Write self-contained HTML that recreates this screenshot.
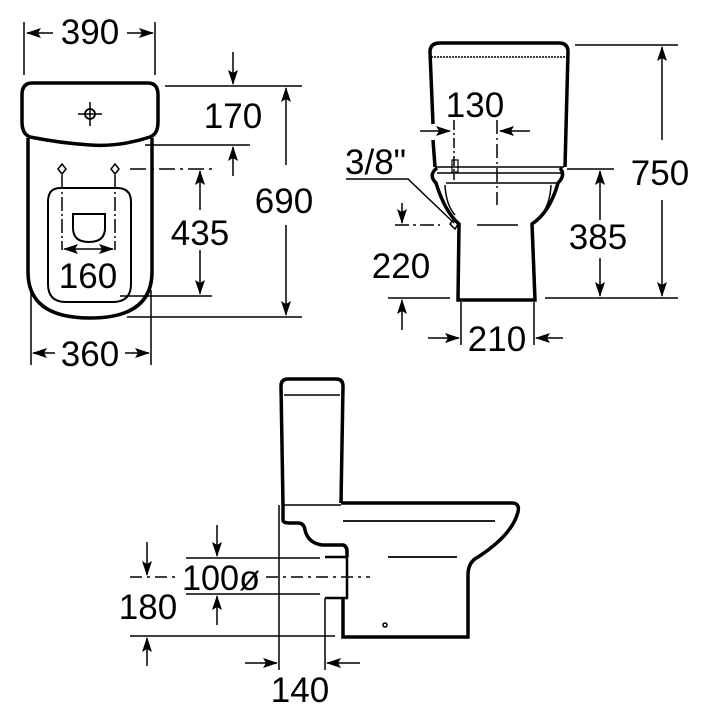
<!DOCTYPE html>
<html><head><meta charset="utf-8"><style>
html,body{margin:0;padding:0;background:#fff}
svg{display:block}
text{font-family:"Liberation Sans",Arial,sans-serif;font-size:35px;fill:#000}
</style></head><body>
<svg width="709" height="720" viewBox="0 0 709 720" xmlns="http://www.w3.org/2000/svg">
<defs>
<marker id="a" markerWidth="15" markerHeight="10" refX="14" refY="5" orient="auto" markerUnits="userSpaceOnUse">
<path d="M0,0 L15,5 L0,10 L3,5 Z" fill="#000"/></marker>
</defs>
<g fill="none" stroke="#000">
<!-- ===== TOP VIEW ===== -->
<path d="M32,83 H148 Q158,83 158,95 V122 Q158,134 150,137 Q120,147 90,145 Q60,143 30,137 Q22,134 22,122 V95 Q22,83 32,83 Z" stroke-width="3.5"/>
<path d="M28,138 V272 Q28,318 90,318 Q152,318 152,272 V138" stroke-width="3.5"/>
<path d="M60,188 H117 Q131,188 131,202 V284 Q131,302 113,302 H66 Q48,302 48,284 V202 Q48,188 60,188 Z" stroke-width="2"/>
<path d="M73,214 H105 V228 Q105,242 89,242 Q73,242 73,228 Z" stroke-width="2"/>
<circle cx="90" cy="114" r="5" stroke-width="1.8"/>
<path d="M78,114 H102 M90,102 V126" stroke-width="1.5"/>
<path d="M62,164 L66,169 L62,174 L58,169 Z M115,164 L119,169 L115,174 L111,169 Z" stroke-width="1.5"/>
<path d="M62,175 V250 M115,175 V250" stroke-width="1.5" stroke-dasharray="14,3,2,3"/>
<path d="M24,22 V75 M155,22 V75" stroke-width="1.5"/>
<path d="M165,86 H302 M145,145 H250 M127,317 H302 M120,296 H212" stroke-width="1.5"/>
<path d="M130,169 H212" stroke-width="1.5" stroke-dasharray="16,5,3,5"/>
<path d="M31,290 V365 M151,290 V365" stroke-width="1.5"/>

<!-- ===== FRONT VIEW ===== -->
<path d="M433,124 L430,52 Q430,43 440,43 H559 Q568,43 568,52 L565,167" stroke-width="3.5"/>
<path d="M433,140 L435,167" stroke-width="3.5"/>
<path d="M431,57 H567" stroke-width="1.5" stroke-dasharray="2,1"/>
<path d="M435,167 H564 M437,173 H562" stroke-width="1.5"/>
<path d="M437,168 Q428,175 436,183 Q445,212 459,224 L458,300 H535 L532,224 Q550,212 558,183 Q566,175 560,168" stroke-width="3.5"/>
<path d="M446,183 H557" stroke-width="1.5"/>
<path d="M445,185 Q446,205 455,215 M551,185 Q550,205 541,215" stroke-width="1.5"/>
<path d="M454,120 V180" stroke-width="1.5" stroke-dasharray="10,3,2,3"/>
<path d="M497,120 V205" stroke-width="1.5" stroke-dasharray="14,4,2,4"/>
<path d="M452,160 H458 V172 H452 Z" stroke-width="1.2"/>
<path d="M453,220 L458,224 L455,229 L450,224 Z" stroke-width="1.5"/>
<path d="M346,179 H408 L454,223" stroke-width="1.5"/>
<path d="M575,45 H678 M545,298 H678 M567,169 H614 M388,298 H450" stroke-width="1.5"/>
<path d="M395,225 H440" stroke-width="1.5" stroke-dasharray="14,4,3,4"/>
<path d="M477,225 H518" stroke-width="1.5"/>
<path d="M461,302 V345 M534,302 V345" stroke-width="1.5"/>

<!-- ===== SIDE VIEW ===== -->
<path d="M283,505 L281,386 Q281,379 288,379 H336 Q343,379 343,386 L341,503" stroke-width="3.5"/>
<path d="M284,395 H340" stroke-width="1.5"/>
<path d="M283,505 H341" stroke-width="1.5"/>
<path d="M283,505 V520 Q283,523 290,523 H298 Q304,523 305,530 Q308,543 322,545 H343 Q347,546 347,552 V557" stroke-width="3.5"/>
<path d="M341,503 H512 Q520,503 518,512 Q512,535 478,557 Q468,562 468,575 V637 H343 V598" stroke-width="3.5"/>
<path d="M325,557 H347 V598 H325" stroke-width="2.5"/>
<path d="M343,521 H495 M388,557 H457" stroke-width="1.8"/>
<circle cx="385" cy="625" r="2" stroke-width="1.5"/>
<path d="M279,505 V670 M325,598 V670" stroke-width="1.5"/>
<path d="M186,558 H320 M186,594 H320" stroke-width="1.5"/>
<path d="M130,577 H180 M266,577 H370" stroke-width="1.5" stroke-dasharray="12,5,3,5"/>
<path d="M130,636 H335" stroke-width="1.5"/>
</g>
<g stroke="#000" stroke-width="1.5" marker-end="url(#a)">
<line x1="53" y1="33" x2="27" y2="33"/>
<line x1="127" y1="33" x2="153" y2="33"/>
<line x1="233" y1="52" x2="233" y2="84"/>
<line x1="233" y1="176" x2="233" y2="147"/>
<line x1="286" y1="165" x2="286" y2="88"/>
<line x1="286" y1="225" x2="286" y2="315"/>
<line x1="200" y1="210" x2="200" y2="171"/>
<line x1="200" y1="250" x2="200" y2="294"/>
<line x1="88" y1="249" x2="64" y2="249"/>
<line x1="88" y1="249" x2="113" y2="249"/>
<line x1="55" y1="353" x2="33" y2="353"/>
<line x1="125" y1="353" x2="149" y2="353"/>
<line x1="420" y1="131" x2="450" y2="131"/>
<line x1="530" y1="131" x2="500" y2="131"/>
<line x1="662" y1="140" x2="662" y2="47"/>
<line x1="662" y1="200" x2="662" y2="296"/>
<line x1="600" y1="220" x2="600" y2="171"/>
<line x1="600" y1="258" x2="600" y2="296"/>
<line x1="402" y1="203" x2="402" y2="223"/>
<line x1="402" y1="330" x2="402" y2="300"/>
<line x1="428" y1="338" x2="459" y2="338"/>
<line x1="563" y1="338" x2="536" y2="338"/>
<line x1="245" y1="663" x2="277" y2="663"/>
<line x1="360" y1="663" x2="327" y2="663"/>
<line x1="217" y1="525" x2="217" y2="556"/>
<line x1="217" y1="625" x2="217" y2="596"/>
<line x1="147" y1="542" x2="147" y2="575"/>
<line x1="147" y1="666" x2="147" y2="638"/>
</g>
<g text-anchor="middle">
<text x="90" y="44">390</text>
<text x="233" y="128">170</text>
<text x="284" y="213">690</text>
<text x="200" y="245">435</text>
<text x="88" y="288">160</text>
<text x="90" y="366">360</text>
<text x="475" y="117">130</text>
<text x="660" y="185">750</text>
<text x="598" y="249">385</text>
<text x="401" y="278">220</text>
<text x="497" y="351">210</text>
<text x="300" y="702">140</text>
<text x="148" y="619">180</text>
</g>
<text x="345" y="174">3/8"</text>
<text x="182" y="590" textLength="78" lengthAdjust="spacingAndGlyphs">100ø</text>
</svg>
</body></html>
